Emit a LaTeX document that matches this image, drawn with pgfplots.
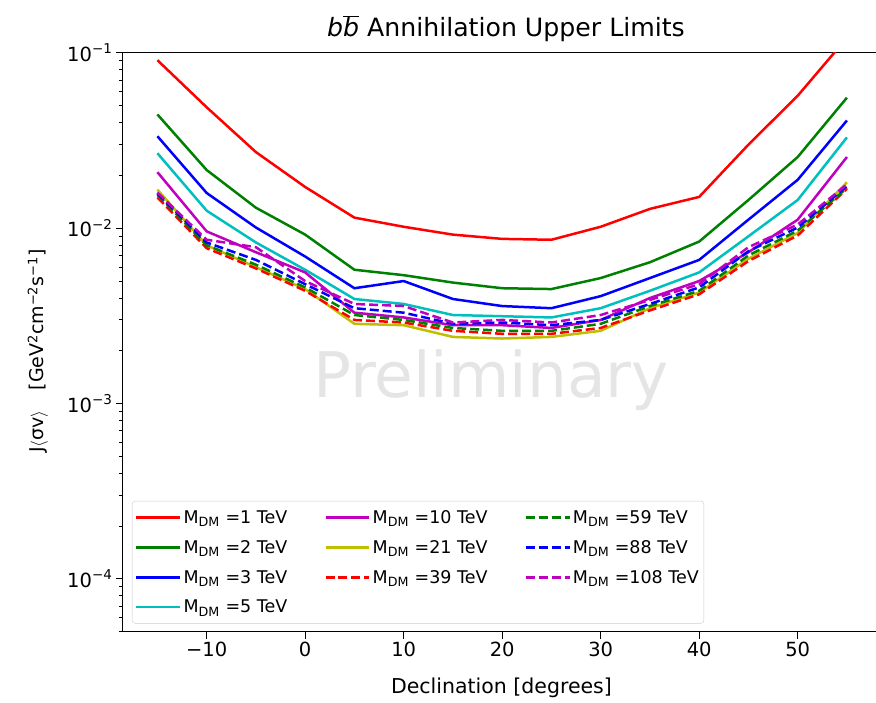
\documentclass[border=0pt]{standalone}
\usepackage{fontspec}
\setmainfont{DejaVu Sans}
\usepackage{pgfplots}
\usepackage{pgfplotstable}
\pgfplotsset{compat=1.18}

\definecolor{mplr}{rgb}{1,0,0}
\definecolor{mplg}{rgb}{0,0.5,0}
\definecolor{mplb}{rgb}{0,0,1}
\definecolor{mplc}{rgb}{0,0.75,0.75}
\definecolor{mplm}{rgb}{0.75,0,0.75}
\definecolor{mply}{rgb}{0.75,0.75,0}

\newcommand{\supx}[1]{\textsuperscript{\fontsize{13.5}{14}\selectfont #1}}
\newcommand{\supl}[1]{\textsuperscript{\fontsize{13}{14}\selectfont #1}}
\newcommand{\mdm}{M\textsubscript{\fontsize{12.7}{13}\selectfont DM}}

% upper limits vs declination, one column per DM mass (TeV)
\pgfplotstableread{
dec  m1     m2      m3      m5      m10    m21     m39    m59     m88     m108
-15  0.091  0.0446  0.0335  0.0268  0.0209 0.0166  0.0150 0.0155  0.0158  0.0160
-10  0.049  0.0215  0.0159  0.0126  0.0096 0.0080  0.0077 0.0080  0.0083  0.0086
-5   0.0272 0.0131  0.0101  0.0083  0.0073 0.0060  0.0059 0.0062  0.0066  0.0078
0    0.0172 0.0092  0.0069  0.0058  0.0056 0.0045  0.0044 0.0046  0.0048  0.0050
5    0.0115 0.0058  0.00455 0.00395 0.0033 0.00285 0.0030 0.0032  0.0035  0.0037
10   0.0102 0.0054  0.0050  0.0037  0.0031 0.0028  0.0029 0.0030  0.0033  0.0036
15   0.0092 0.0049  0.00395 0.0032  0.0028 0.0024  0.0026 0.0027  0.00285 0.0029
20   0.0087 0.00455 0.0036  0.00315 0.0028 0.00235 0.0025 0.0026  0.0029  0.0030
25   0.0086 0.0045  0.0035  0.0031  0.0027 0.0024  0.0025 0.0026  0.0028  0.0029
30   0.0102 0.0052  0.0041  0.0035  0.0030 0.0026  0.0027 0.00285 0.0030  0.0032
35   0.0129 0.0064  0.0052  0.0044  0.0040 0.0035  0.0034 0.0036  0.0037  0.0039
40   0.0151 0.0084  0.0066  0.0056  0.0050 0.0043  0.0042 0.0044  0.0046  0.0048
45   0.0300 0.0145  0.0112  0.0090  0.0073 0.0067  0.0065 0.0070  0.0074  0.0078
50   0.057  0.0255  0.0189  0.0145  0.0112 0.0094  0.0091 0.0097  0.0101  0.0105
55   0.122  0.0556  0.0412  0.0330  0.0255 0.0183  0.0168 0.0170  0.0174  0.0178
}\limits

\begin{document}
\begin{tikzpicture}
\begin{axis}[
    scale only axis,
    width=753pt, height=579pt,
    xmin=-18.5, xmax=57.9,
    ymode=log, ymin=5e-5, ymax=0.1,
    axis x line*=box, axis y line*=left,
    tick pos=left,
    tick align=outside,
    axis line style={line width=1pt},
    every tick/.style={black, line width=1pt},
    major tick length=7pt, minor tick length=4pt,
    xtick={-10,0,10,20,30,40,50},
    xticklabels={−10,0,10,20,30,40,50},
    minor xtick={},
    ytick={1e-4,1e-3,1e-2,1e-1},
    yticklabels={10\supx{−4},10\supx{−3},10\supx{−2},10\supx{−1}},
    minor ytick={5e-5,6e-5,7e-5,8e-5,9e-5,2e-4,3e-4,4e-4,5e-4,6e-4,7e-4,8e-4,9e-4,
                 2e-3,3e-3,4e-3,5e-3,6e-3,7e-3,8e-3,9e-3,2e-2,3e-2,4e-2,5e-2,6e-2,7e-2,8e-2,9e-2},
    tick label style={font=\fontsize{19.5}{22}\selectfont},
    xlabel={Declination [degrees]},
    xlabel style={font=\fontsize{20.5}{23}\selectfont, inner sep=0pt,
        at={(axis description cs:0.503,-0.0966)}, anchor=center},
    ylabel={J$\langle$σv$\rangle$\hspace{20pt}[GeV\supl{2}cm\supl{−2}s\supl{−1}]},
    ylabel style={font=\fontsize{19}{21}\selectfont, inner sep=0pt,
        at={(axis description cs:-0.113,0.485)}, anchor=center},
    title={\textit{b}$\overline{\hbox{\textit{b}}}$ Annihilation Upper Limits},
    title style={font=\fontsize{25.2}{28}\selectfont, inner sep=0pt,
        at={(axis description cs:0.509,1.031)}, anchor=center},
    legend style={at={(0.012,0.014)}, anchor=south west,
        font=\fontsize{17.5}{20}\selectfont,
        draw=black!20, rounded corners=3pt, fill=white,
        row sep=11.5pt, inner xsep=3pt, inner ysep=7pt,
        /tikz/every even column/.append style={column sep=35pt}},
    legend columns=3,
    legend cell align=left,
    legend image code/.code={\draw[#1, line width=2.5pt] (0pt,0pt) -- (36pt,0pt); \path (0pt,0pt) -- (44pt,0pt);},
    every axis plot/.append style={line width=2.5pt},
]

\node[text=black!10, font=\fontsize{63}{70}\selectfont] at (rel axis cs:0.489,0.434) {Preliminary};

\addplot[mplr, forget plot] table[x=dec, y=m1] {\limits};
\addplot[mplg, forget plot] table[x=dec, y=m2] {\limits};
\addplot[mplb, forget plot] table[x=dec, y=m3] {\limits};
\addplot[mplc, forget plot] table[x=dec, y=m5] {\limits};
\addplot[mplm, forget plot] table[x=dec, y=m10] {\limits};
\addplot[mply, forget plot] table[x=dec, y=m21] {\limits};
\addplot[mplr, dash pattern=on 9pt off 4pt, forget plot] table[x=dec, y=m39] {\limits};
\addplot[mplg, dash pattern=on 9pt off 4pt, forget plot] table[x=dec, y=m59] {\limits};
\addplot[mplb, dash pattern=on 9pt off 4pt, forget plot] table[x=dec, y=m88] {\limits};
\addplot[mplm, dash pattern=on 9pt off 4pt, forget plot] table[x=dec, y=m108] {\limits};

% legend filled row by row so that it reads column by column
\addlegendimage{mplr}
\addlegendentry{\mdm\ =1 TeV}
\addlegendimage{mplm}
\addlegendentry{\mdm\ =10 TeV}
\addlegendimage{mplg, dash pattern=on 9pt off 4pt}
\addlegendentry{\mdm\ =59 TeV}
\addlegendimage{mplg}
\addlegendentry{\mdm\ =2 TeV}
\addlegendimage{mply}
\addlegendentry{\mdm\ =21 TeV}
\addlegendimage{mplb, dash pattern=on 9pt off 4pt}
\addlegendentry{\mdm\ =88 TeV}
\addlegendimage{mplb}
\addlegendentry{\mdm\ =3 TeV}
\addlegendimage{mplr, dash pattern=on 9pt off 4pt}
\addlegendentry{\mdm\ =39 TeV}
\addlegendimage{mplm, dash pattern=on 9pt off 4pt}
\addlegendentry{\mdm\ =108 TeV}
\addlegendimage{mplc}
\addlegendentry{\mdm\ =5 TeV}

\end{axis}
% page box: room for labels and title as in the reference
\path ([xshift=-123pt,yshift=-71pt]current axis.south west) rectangle ([yshift=53pt]current axis.north east);
\end{tikzpicture}
\end{document}
